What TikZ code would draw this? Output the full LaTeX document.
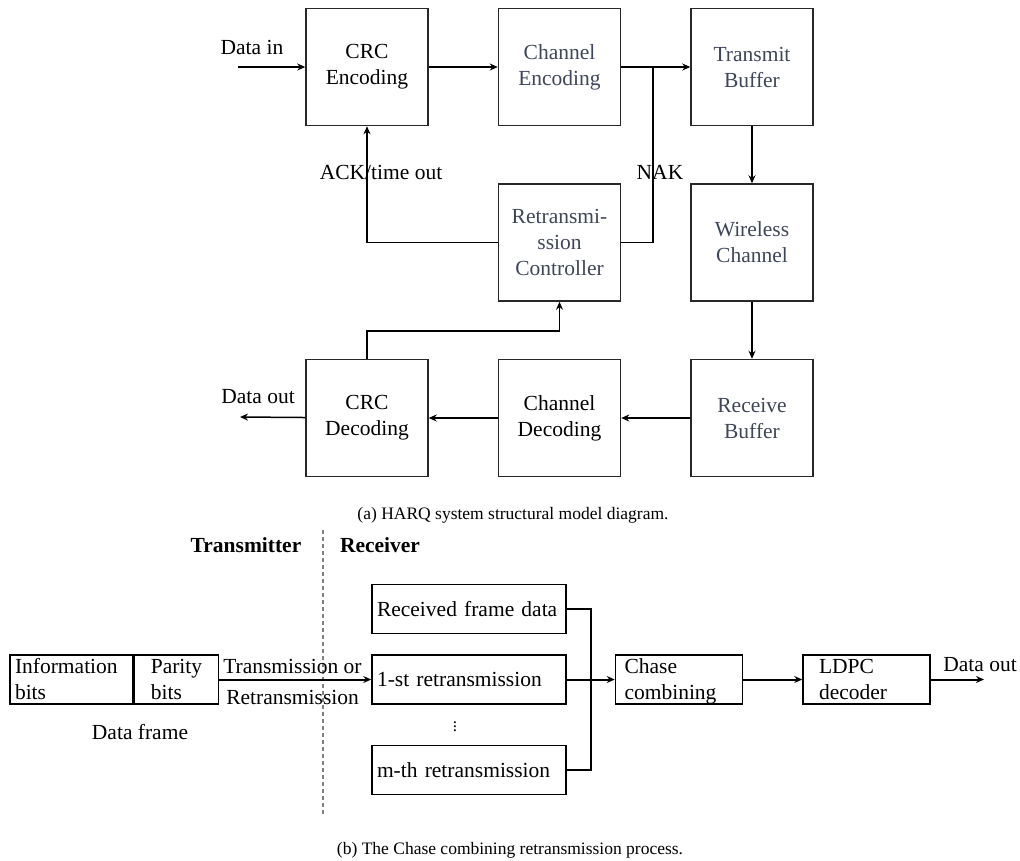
\documentclass[tikz,border=0pt]{standalone}
\usepackage{fontspec}
\setmainfont{Liberation Serif}
\usepackage{xcolor}
\usepackage{tikz}
\usetikzlibrary{arrows.meta, positioning, calc}

\definecolor{slatetext}{RGB}{62,70,88}
\definecolor{boxline}{RGB}{40,40,40}

\begin{document}
\begin{tikzpicture}[
    x=1pt, y=-1pt,
    node distance=57pt and 69pt,
    every node/.style={font=\fontsize{21.5}{26}\selectfont},
    block/.style={rectangle, draw=boxline, line width=1.5pt, minimum width=122pt, minimum height=117pt, align=center, inner sep=2pt},
    greyblock/.style={block, text=slatetext},
    cellbox/.style={rectangle, draw, line width=1.5pt, minimum height=49pt, align=left, inner sep=0pt},
    arrow/.style={-{Stealth[length=8pt, width=7pt]}, line width=1.5pt},
    link/.style={line width=1.5pt},
    bus/.style={line width=2pt},
    busarrow/.style={-{Stealth[length=8pt, width=7pt]}, line width=2pt},
    tag/.style={inner sep=0pt},
    sidehead/.style={inner sep=0pt, font=\fontsize{21.5}{26}\selectfont\bfseries},
    captext/.style={inner sep=0pt, font=\fontsize{17.5}{21}\selectfont},
    divider/.style={gray, line width=1.2pt, dash pattern=on 4pt off 3pt}
]
\useasboundingbox (0,0) rectangle (1020,860);

% Transmit side
\node[block] (crcenc) at (367,67) {CRC\\Encoding};
\node[greyblock, right=of crcenc] (chenc) {Channel\\Encoding};
\node[greyblock, right=of chenc] (txbuf) {Transmit\\Buffer};

% Control and channel
\node[greyblock, below=of chenc] (retrans) {Retransmi-\\ssion\\Controller};
\node[greyblock, below=of txbuf] (wireless) {Wireless\\Channel};

% Receive side
\node[greyblock, below=of wireless] (rxbuf) {Receive\\Buffer};
\node[block, below=of retrans] (chdec) {Channel\\Decoding};
\node[block, left=of chdec] (crcdec) {CRC\\Decoding};

% Labels
\node[tag] (datain) at (252,47) {Data in};
\coordinate (dinstart) at (238,67);
\node[tag] (ack) at (381,172) {ACK/time out};
\node[tag] (nak) at (660,172) {NAK};
\coordinate (nakjoin) at (653,67);
\node[tag] (dataout) at (258,397) {Data out};
\coordinate (doutend) at (240,417);

% Arrows - forward path
\draw[arrow] (dinstart) -- (crcenc);
\draw[arrow] (crcenc) -- (chenc);
\draw[arrow] (chenc) -- (txbuf);
\draw[arrow] (txbuf) -- (wireless);
\draw[arrow] (wireless) -- (rxbuf);
\draw[arrow] (rxbuf) -- (chdec);
\draw[arrow] (chdec) -- (crcdec);
\draw[arrow] (crcdec) -- (doutend);

% Arrows - feedback
\draw[arrow] (crcdec.north) -- ++(0,28pt) -| (retrans.south);
\draw[arrow] (retrans.west) -| (crcenc.south);
\draw[link] (retrans.east) -| (nakjoin);

\node[captext] (capa) at (513,515) {(a) HARQ system structural model diagram.};

% Transmitter / receiver split
\node[sidehead] (txhead) at (246,545) {Transmitter};
\node[sidehead] (rxhead) at (380,545) {Receiver};
\coordinate (divtop) at (323,530);
\coordinate (divbot) at (323,815);
\draw[divider] (divtop) -- (divbot);

% Data frame
\node[cellbox, minimum width=123pt, text width=113pt] (infobits) at (71.5,679.5) {Information\\bits};
\node[cellbox, minimum width=84pt, right=0pt of infobits] (parity) {Parity\\bits};
\node[tag] (dframe) at (140,732) {Data frame};

% Receiver buffers
\node[cellbox, minimum width=194pt, text width=184pt] (firstre) at (469,679.5) {1-st retransmission};
\node[cellbox, minimum width=194pt, text width=184pt, above=20pt of firstre] (recvd) {Received frame data};
\node[cellbox, minimum width=194pt, text width=184pt, below=40pt of firstre] (mthre) {m-th retransmission};
\node[tag, font=\fontsize{17}{20}\selectfont] (vdots) at (455,724) {$\vdots$};

% Combining and decoding
\node[cellbox, minimum width=127pt, text width=109pt, right=48pt of firstre] (chase) {Chase\\\smash{combining}};
\node[cellbox, minimum width=127pt, text width=95pt, right=59pt of chase] (ldpc) {LDPC\\\smash{decoder}};
\node[tag] (dout2) at (980,665) {Data out};
\coordinate (dout2end) at (984,679.5);

% Arrows - chase combining
\draw[busarrow] (parity) -- node[tag, pos=0, anchor=south west, xshift=3pt, yshift=4.5pt] {Transmission or} node[tag, pos=0, anchor=north west, xshift=6pt, yshift=-10pt] {Retransmission} (firstre);
\draw[bus] (recvd.east) -- ++(24pt,0) |- (mthre.east);
\draw[busarrow] (firstre) -- (chase);
\draw[busarrow] (chase) -- (ldpc);
\draw[busarrow] (ldpc) -- (dout2end);

\node[captext] (capb) at (510,850) {(b) The Chase combining retransmission process.};

\end{tikzpicture}
\end{document}
